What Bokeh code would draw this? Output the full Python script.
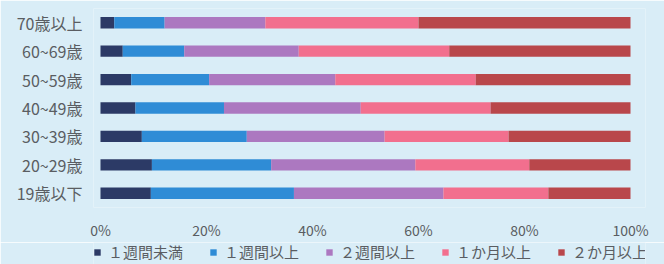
from bokeh.plotting import figure
from bokeh.layouts import column
from bokeh.models import ColumnDataSource, FactorRange, Legend, LegendItem, FixedTicker
from bokeh.embed import file_html
from bokeh.resources import INLINE

# --- data (percent) ---
categories = ["70歳以上", "60~69歳", "50~59歳", "40~49歳", "30~39歳", "20~29歳", "19歳以下"]
series_names = ["１週間未満", "１週間以上", "２週間以上", "１か月以上", "２か月以上"]
under_1week = [2.6, 4.2, 5.8, 6.6, 7.8, 9.7, 9.5]
over_1week = [9.5, 11.6, 14.7, 16.7, 19.8, 22.5, 27.0]
over_2week = [19.0, 21.6, 23.8, 25.8, 26.0, 27.2, 28.2]
over_1month = [28.9, 28.4, 26.5, 24.5, 23.4, 21.5, 19.8]
over_2month = [40.0, 34.2, 29.2, 26.4, 23.0, 19.1, 15.5]
tick_values = [0, 20, 40, 60, 80, 100]
tick_labels = ["0%", "20%", "40%", "60%", "80%", "100%"]

colors = ["#2c3a66", "#2f8cd6", "#ac78c0", "#f26f8e", "#b9474b"]
BG = "#d9edf7"
TXT = "#5a5d62"
FONT = "Noto Sans CJK JP"

keys = ["s0", "s1", "s2", "s3", "s4"]
source = ColumnDataSource(dict(cat=categories, s0=under_1week, s1=over_1week,
                               s2=over_2week, s3=over_1month, s4=over_2month))

# ---- main chart (x range padded a little so the frame also fits the legend row) ----
p = figure(width=664, height=242, output_backend="svg", toolbar_location=None,
           y_range=FactorRange(factors=categories[::-1], range_padding=0),
           x_range=(-1.32, 102.83),
           min_border_left=93, min_border_right=19, min_border_top=8, min_border_bottom=30,
           background_fill_color=BG, border_fill_color=BG, outline_line_color=None)

p.hbar_stack(keys, y="cat", height=0.4, color=colors, source=source, line_color=None)

p.xgrid.grid_line_color = None
p.ygrid.grid_line_color = None

p.xaxis.ticker = FixedTicker(ticks=tick_values)
p.xaxis.major_label_overrides = {v: l for v, l in zip(tick_values, tick_labels)}
for ax in (p.xaxis[0], p.yaxis[0]):
    ax.axis_line_color = None
    ax.major_tick_line_color = None
    ax.minor_tick_line_color = None
    ax.major_tick_in = 0
    ax.major_tick_out = 0
    ax.major_label_text_color = TXT
    ax.major_label_text_font = FONT
p.xaxis.major_label_text_font_size = "14px"
p.yaxis.major_label_text_font_size = "16px"
p.xaxis.major_label_standoff = 12
p.yaxis.major_label_standoff = 11

# ---- legend strip (own figure; its zero-height bars lie outside its visible x range) ----
lg = figure(width=664, height=22, output_backend="svg", toolbar_location=None,
            y_range=FactorRange(factors=categories[::-1]), x_range=(200, 300),
            x_axis_location=None, y_axis_location=None,
            min_border_left=0, min_border_right=0, min_border_top=0, min_border_bottom=0,
            background_fill_color=BG, border_fill_color=BG, outline_line_color=None)
lg.xgrid.grid_line_color = None
lg.ygrid.grid_line_color = None
lg_renderers = lg.hbar_stack(keys, y="cat", height=0, color=colors, source=source, line_color=None)

legend = Legend(items=[LegendItem(label=n, renderers=[r]) for n, r in zip(series_names, lg_renderers)],
                orientation="horizontal", location=(0, 2),
                glyph_width=8, glyph_height=8, label_standoff=7, spacing=26,
                padding=0, margin=0, label_height=18, border_line_color=None, background_fill_alpha=0,
                label_text_font=FONT, label_text_font_size="15px", label_text_color=TXT)
lg.add_layout(legend)

layout = column(p, lg, spacing=0)
open("out.html", "w").write(file_html(layout, INLINE))
